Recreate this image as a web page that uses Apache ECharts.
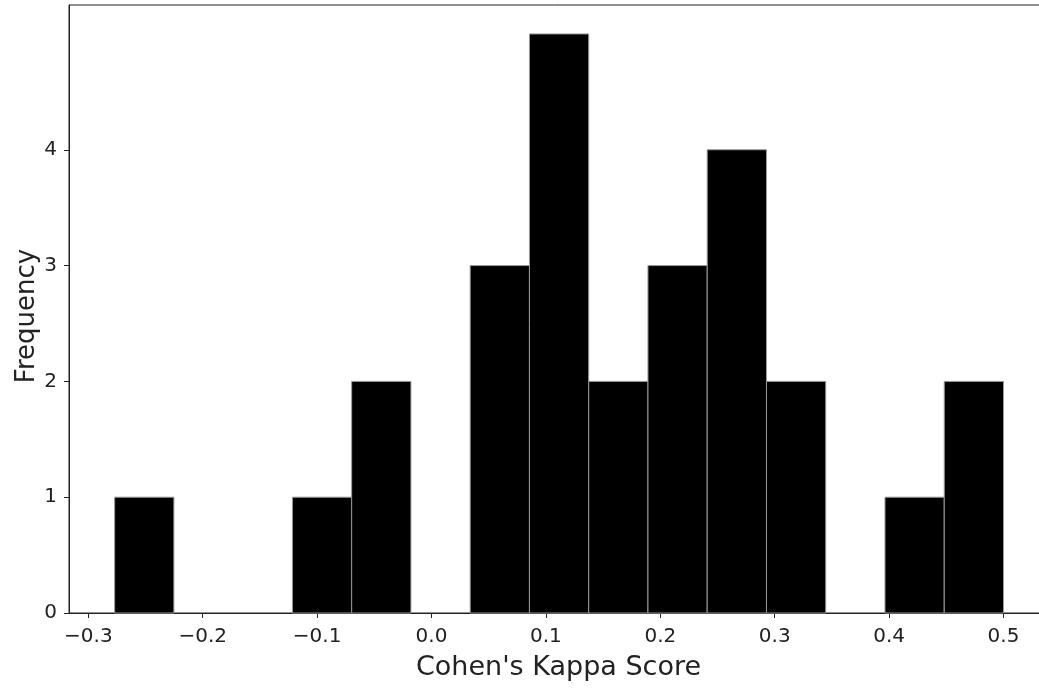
<!DOCTYPE html>
<html>
<head>
<meta charset="utf-8">
<script src="https://cdn.jsdelivr.net/npm/echarts@6/dist/echarts.min.js"></script>
<style>
  html, body { margin: 0; padding: 0; background: #fff; }
  #chart { width: 1039px; height: 689px; }
</style>
</head>
<body>
<div id="chart"></div>
<script>
// histogram of kappa scores, 15 bins
const binMin = -0.277;
const binMax = 0.5;
const counts = [1, 0, 0, 1, 2, 0, 3, 5, 2, 3, 4, 2, 0, 1, 2];
const xTicks = [-0.3, -0.2, -0.1, 0.0, 0.1, 0.2, 0.3, 0.4, 0.5];
const yTicks = [0, 1, 2, 3, 4];

const binWidth = (binMax - binMin) / counts.length;
let bins = [];
counts.forEach((c, i) => {
  bins.push([binMin + i * binWidth, binMin + (i + 1) * binWidth, c]);
});

const font = 'DejaVu Sans';
const fmt = v => {
  let s = Number(v).toFixed(1);
  return s.replace('-', '\u2212');
};

const chart = echarts.init(document.getElementById('chart'));
const option = {
  backgroundColor: '#fff',
  animation: false,
  grid: {
    left: 69,
    top: 5,
    width: 979,
    bottom: 76,
    outerBoundsMode: 'none',
    show: true,
    borderColor: '#222',
    borderWidth: 1
  },
  xAxis: {
    type: 'value',
    min: -0.3169,
    max: 0.5389,
    name: "Cohen's Kappa Score",
    nameLocation: 'middle',
    nameGap: 41,
    nameTextStyle: { fontFamily: font, fontSize: 27, color: '#222' },
    axisLine: { show: true, onZero: false, lineStyle: { color: '#222', width: 1 } },
    axisTick: { show: true, length: 5, customValues: xTicks, lineStyle: { color: '#222' } },
    axisLabel: {
      customValues: xTicks,
      formatter: fmt,
      fontFamily: font,
      fontSize: 20,
      color: '#222',
      margin: 14
    },
    splitLine: { show: false }
  },
  yAxis: {
    type: 'value',
    min: 0,
    max: 5.25,
    name: 'Frequency',
    nameLocation: 'middle',
    nameGap: 29,
    nameMoveOverlap: false,
    nameRotate: 90,
    nameTextStyle: { fontFamily: font, fontSize: 26, color: '#222', padding: [0, 14, 0, 0] },
    axisLine: { show: true, onZero: false, lineStyle: { color: '#222', width: 1 } },
    axisTick: { show: true, length: 5, customValues: yTicks, lineStyle: { color: '#222' } },
    axisLabel: {
      customValues: yTicks,
      fontFamily: font,
      fontSize: 20,
      color: '#222',
      margin: 12
    },
    splitLine: { show: false }
  },
  series: [{
    type: 'custom',
    data: bins,
    renderItem: (params, api) => {
      const p0 = api.coord([api.value(0), 0]);
      const p1 = api.coord([api.value(1), api.value(2)]);
      if (api.value(2) === 0) return null;
      return {
        type: 'rect',
        shape: { x: p0[0], y: p1[1], width: p1[0] - p0[0], height: p0[1] - p1[1] },
        style: { fill: '#000', stroke: '#999', lineWidth: 1 }
      };
    },
    encode: { x: [0, 1], y: 2 }
  }]
};
chart.setOption(option);
</script>
</body>
</html>
